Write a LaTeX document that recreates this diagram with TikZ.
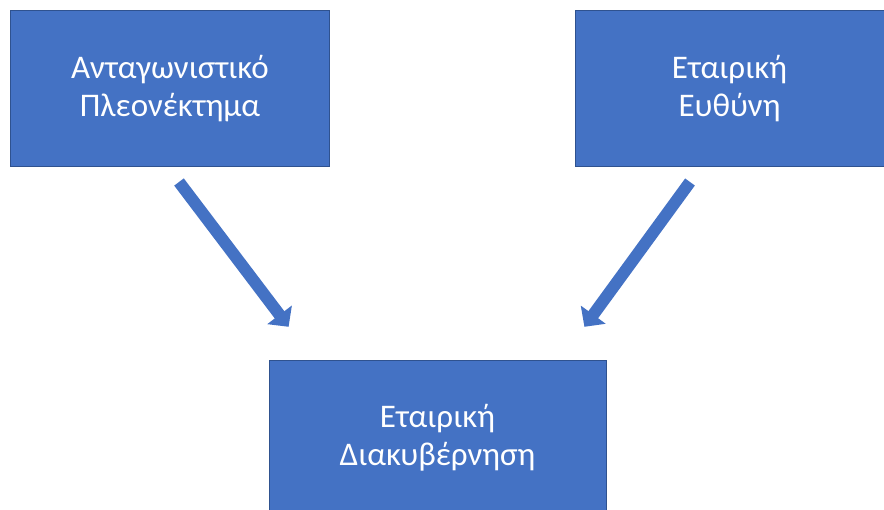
\documentclass[tikz,border=0pt]{standalone}
\usepackage{fontspec}
\setmainfont{Carlito}
\usetikzlibrary{arrows.meta}
\definecolor{boxblue}{HTML}{4472C4}
\definecolor{boxedge}{HTML}{2F528F}
\begin{document}
\begin{tikzpicture}[x=1pt,y=-1pt,
  every node/.style={draw=boxedge,line width=0.6pt,fill=boxblue,text=white,
    align=center,font=\fontsize{33}{38}\selectfont},
  blockarrow/.style={draw=boxblue,line width=12pt,
    -{Triangle[length=15pt,width=30pt]},shorten >=-1pt}]

  % frame of the picture
  \useasboundingbox (0,0) rectangle (884,510);
  \clip (0,0) rectangle (884,510);

  % boxes
  \node[minimum width=319pt,minimum height=156pt] (adv) at (170,88.5)
    {Ανταγωνιστικό\\Πλεονέκτημα};
  \node[minimum width=309pt,minimum height=156pt] (resp) at (729.5,88.5)
    {Εταιρική\\Ευθύνη};
  \node[minimum width=337pt,minimum height=156pt] (gov) at (437.5,438)
    {Εταιρική\\Διακυβέρνηση};

  % arrow ends
  \coordinate (a0) at (179,182);
  \coordinate (a1) at (288,326);
  \coordinate (b0) at (690,182);
  \coordinate (b1) at (585,326);

  \draw[blockarrow] (a0) -- (a1);
  \draw[blockarrow] (b0) -- (b1);

\end{tikzpicture}
\end{document}
